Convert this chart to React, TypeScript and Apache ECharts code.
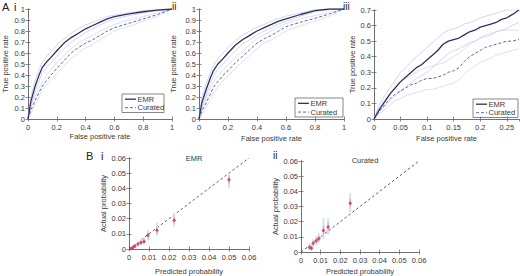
import React, { useEffect, useRef } from "react";
import * as echarts from "echarts";

// ---------- Data ----------
// Panel A i
const aiFpr = [0, 0.02, 0.05, 0.08, 0.1, 0.13, 0.16, 0.2, 0.25, 0.3, 0.35, 0.4, 0.45, 0.5, 0.55, 0.6, 0.7, 0.8, 0.9, 1];
const aiEmr = [0, 0.16, 0.3, 0.41, 0.47, 0.52, 0.56, 0.62, 0.69, 0.74, 0.78, 0.82, 0.85, 0.88, 0.91, 0.93, 0.955, 0.975, 0.99, 1];
const aiEmrHi = [0, 0.2, 0.35, 0.46, 0.52, 0.57, 0.61, 0.67, 0.73, 0.78, 0.82, 0.855, 0.88, 0.905, 0.93, 0.945, 0.965, 0.985, 0.995, 1];
const aiEmrLo = [0, 0.12, 0.25, 0.36, 0.42, 0.47, 0.51, 0.57, 0.64, 0.7, 0.74, 0.785, 0.82, 0.855, 0.885, 0.91, 0.94, 0.965, 0.985, 1];
const aiCur = [0, 0.08, 0.17, 0.25, 0.3, 0.35, 0.4, 0.46, 0.53, 0.6, 0.65, 0.69, 0.72, 0.76, 0.8, 0.83, 0.87, 0.91, 0.95, 1];
const aiCurHi = [0, 0.11, 0.21, 0.29, 0.34, 0.4, 0.45, 0.51, 0.58, 0.64, 0.69, 0.73, 0.76, 0.8, 0.83, 0.86, 0.9, 0.93, 0.965, 1];
const aiCurLo = [0, 0.05, 0.13, 0.21, 0.26, 0.31, 0.36, 0.41, 0.48, 0.55, 0.6, 0.65, 0.68, 0.72, 0.76, 0.8, 0.84, 0.89, 0.935, 1];

// Panel A ii
const aiiFpr = [0, 0.02, 0.05, 0.08, 0.1, 0.13, 0.16, 0.2, 0.25, 0.3, 0.35, 0.4, 0.45, 0.5, 0.55, 0.6, 0.7, 0.8, 0.9, 1];
const aiiEmr = [0, 0.15, 0.27, 0.38, 0.44, 0.5, 0.54, 0.6, 0.67, 0.72, 0.76, 0.8, 0.83, 0.86, 0.89, 0.91, 0.95, 0.985, 1, 1];
const aiiEmrHi = [0, 0.19, 0.32, 0.43, 0.49, 0.55, 0.59, 0.65, 0.71, 0.76, 0.8, 0.835, 0.86, 0.89, 0.915, 0.935, 0.965, 0.993, 1, 1];
const aiiEmrLo = [0, 0.11, 0.22, 0.33, 0.39, 0.45, 0.49, 0.55, 0.62, 0.68, 0.72, 0.765, 0.8, 0.83, 0.865, 0.89, 0.935, 0.975, 0.995, 1];
const aiiCur = [0, 0.07, 0.15, 0.23, 0.29, 0.34, 0.39, 0.44, 0.51, 0.57, 0.63, 0.69, 0.73, 0.76, 0.8, 0.84, 0.88, 0.915, 0.955, 1];
const aiiCurHi = [0, 0.1, 0.19, 0.28, 0.34, 0.39, 0.44, 0.49, 0.56, 0.62, 0.68, 0.73, 0.77, 0.8, 0.84, 0.87, 0.91, 0.94, 0.97, 1];
const aiiCurLo = [0, 0.04, 0.11, 0.18, 0.24, 0.29, 0.34, 0.39, 0.46, 0.52, 0.58, 0.64, 0.69, 0.72, 0.76, 0.8, 0.85, 0.89, 0.935, 1];

// Panel A iii
const aiiiFpr = [0, 0.01, 0.02, 0.03, 0.04, 0.05, 0.06, 0.07, 0.08, 0.09, 0.1, 0.11, 0.12, 0.13, 0.14, 0.15, 0.16, 0.17, 0.18, 0.19, 0.2, 0.21, 0.22, 0.23, 0.24, 0.25, 0.26, 0.273];
const aiiiEmr = [0, 0.06, 0.11, 0.16, 0.2, 0.24, 0.27, 0.3, 0.33, 0.35, 0.38, 0.41, 0.44, 0.48, 0.5, 0.51, 0.52, 0.54, 0.56, 0.57, 0.59, 0.6, 0.61, 0.62, 0.64, 0.65, 0.67, 0.7];
const aiiiEmrHi = [0, 0.09, 0.15, 0.2, 0.25, 0.3, 0.33, 0.37, 0.4, 0.43, 0.46, 0.49, 0.52, 0.55, 0.57, 0.58, 0.59, 0.61, 0.62, 0.63, 0.65, 0.66, 0.67, 0.68, 0.69, 0.7, 0.7, 0.7];
const aiiiEmrLo = [0, 0.04, 0.08, 0.12, 0.15, 0.18, 0.21, 0.23, 0.26, 0.28, 0.3, 0.33, 0.36, 0.39, 0.42, 0.44, 0.45, 0.47, 0.49, 0.5, 0.52, 0.53, 0.54, 0.56, 0.57, 0.58, 0.6, 0.62];
const aiiiCur = [0, 0.05, 0.09, 0.13, 0.16, 0.18, 0.2, 0.22, 0.23, 0.25, 0.26, 0.26, 0.27, 0.28, 0.3, 0.31, 0.33, 0.37, 0.4, 0.42, 0.44, 0.46, 0.47, 0.48, 0.49, 0.5, 0.5, 0.51];
const aiiiCurHi = [0, 0.07, 0.12, 0.17, 0.21, 0.24, 0.26, 0.28, 0.3, 0.32, 0.33, 0.34, 0.35, 0.36, 0.38, 0.4, 0.42, 0.45, 0.48, 0.5, 0.52, 0.54, 0.55, 0.56, 0.57, 0.57, 0.57, 0.57];
const aiiiCurLo = [0, 0.03, 0.06, 0.09, 0.12, 0.13, 0.15, 0.16, 0.17, 0.18, 0.19, 0.19, 0.2, 0.21, 0.22, 0.23, 0.25, 0.29, 0.32, 0.34, 0.36, 0.38, 0.39, 0.41, 0.42, 0.43, 0.44, 0.45];

// Panel B i (EMR calibration)
const biPred = [0.001, 0.002, 0.003, 0.0045, 0.006, 0.0075, 0.0095, 0.014, 0.0226, 0.05];
const biActual = [0.0003, 0.001, 0.002, 0.0033, 0.0043, 0.005, 0.0091, 0.0123, 0.019, 0.0456];
const biPinkLo = [0, 0.0005, 0.0012, 0.0024, 0.0032, 0.0038, 0.0075, 0.0102, 0.0168, 0.0428];
const biPinkHi = [0.0008, 0.0016, 0.0028, 0.0042, 0.0054, 0.0062, 0.0107, 0.0145, 0.0212, 0.0484];
const biBlueLo = [0, 0, 0.0006, 0.0016, 0.0024, 0.003, 0.0058, 0.0088, 0.0148, 0.04];
const biBlueHi = [0.0012, 0.0022, 0.0036, 0.0052, 0.0066, 0.0076, 0.0125, 0.0175, 0.0238, 0.049];

// Panel B ii (Curated calibration)
const biiPred = [0.0043, 0.0053, 0.0062, 0.0078, 0.0091, 0.0114, 0.0138, 0.025];
const biiActual = [0.0032, 0.0025, 0.0057, 0.0074, 0.0089, 0.0142, 0.0165, 0.0322];
const biiPinkLo = [0.0022, 0.0015, 0.0043, 0.0058, 0.0072, 0.0115, 0.0138, 0.0296];
const biiPinkHi = [0.0042, 0.0035, 0.0071, 0.009, 0.0106, 0.0172, 0.0192, 0.0352];
const biiBlueLo = [0.0012, 0.0006, 0.003, 0.0044, 0.0058, 0.0085, 0.0115, 0.026];
const biiBlueHi = [0.0055, 0.0046, 0.0088, 0.0108, 0.0125, 0.0223, 0.0222, 0.0388];

const diagonal = [0, 0.06];

// ---------- Styles ----------
const FONT = "Liberation Sans, Arial, Helvetica, sans-serif";
const AXIS_COLOR = "#6a6a6a";
const TEXT_COLOR = "#3a3a3a";
const EMR_COLOR = "#2c3064";
const CUR_COLOR = "#5c68a4";
const BAND_EMR = "#c6cbe8";
const BAND_CUR = "#d4d8ee";
const RED = "#c4345a";
const PINK = "#e0a2b6";
const BLUE = "#cfe3f0";
const FS = 7.5;

const zip = (xs: number[], ys: number[]) => xs.map((x, i) => [x, ys[i]]);

function makeAxes(
  g: number,
  x: { min: number; max: number; interval: number; name: string; gap: number; hideMax?: boolean },
  y: { min: number; max: number; interval: number; name: string; gap: number }
) {
  const label = { fontSize: FS, color: TEXT_COLOR, fontFamily: FONT };
  const line = { show: true, lineStyle: { color: AXIS_COLOR, width: 0.8 } };
  const tick = { show: true, inside: true, length: 2.5, lineStyle: { color: AXIS_COLOR, width: 0.8 } };
  const nameStyle = { fontSize: FS, color: TEXT_COLOR, fontFamily: FONT };
  const xAxes = [
    {
      type: "value", gridIndex: g, position: "bottom", min: x.min, max: x.max, interval: x.interval,
      name: x.name, nameLocation: "middle", nameGap: x.gap, nameTextStyle: nameStyle,
      axisLine: line, axisTick: tick, splitLine: { show: false },
      axisLabel: { ...label, margin: 4, showMaxLabel: !x.hideMax },
    },
    {
      type: "value", gridIndex: g, position: "top", min: x.min, max: x.max, interval: x.interval,
      axisLine: line, axisTick: tick, splitLine: { show: false }, axisLabel: { show: false },
    },
  ];
  const yAxes = [
    {
      type: "value", gridIndex: g, position: "left", min: y.min, max: y.max, interval: y.interval,
      name: y.name, nameLocation: "middle", nameGap: y.gap, nameTextStyle: nameStyle,
      axisLine: line, axisTick: tick, splitLine: { show: false },
      axisLabel: { ...label, margin: 3 },
    },
    {
      type: "value", gridIndex: g, position: "right", min: y.min, max: y.max, interval: y.interval,
      axisLine: line, axisTick: tick, splitLine: { show: false }, axisLabel: { show: false },
    },
  ];
  return { xAxes, yAxes };
}

function rocSeries(g: number, fpr: number[], emr: number[], emrHi: number[], emrLo: number[], cur: number[], curHi: number[], curLo: number[]) {
  const base = { type: "line", xAxisIndex: 2 * g, yAxisIndex: 2 * g, symbol: "none", silent: true };
  return [
    { ...base, name: "cHi" + g, data: zip(fpr, curHi), lineStyle: { color: BAND_CUR, width: 0.8 }, z: 1 },
    { ...base, name: "cLo" + g, data: zip(fpr, curLo), lineStyle: { color: BAND_CUR, width: 0.8 }, z: 1 },
    { ...base, name: "eHi" + g, data: zip(fpr, emrHi), lineStyle: { color: BAND_EMR, width: 0.8 }, z: 1 },
    { ...base, name: "eLo" + g, data: zip(fpr, emrLo), lineStyle: { color: BAND_EMR, width: 0.8 }, z: 1 },
    { ...base, name: "Curated" + g, data: zip(fpr, cur), lineStyle: { color: CUR_COLOR, width: 1, type: [3, 2] }, z: 2 },
    { ...base, name: "EMR" + g, data: zip(fpr, emr), lineStyle: { color: EMR_COLOR, width: 1.3 }, z: 3 },
  ];
}

function errorBars(g: number, xs: number[], lo: number[], hi: number[], color: string, width: number, z: number) {
  return {
    type: "custom",
    xAxisIndex: 2 * g,
    yAxisIndex: 2 * g,
    silent: true,
    z,
    encode: { x: 0, y: [1, 2] },
    data: xs.map((x, i) => [x, lo[i], hi[i]]),
    renderItem: (_params: any, api: any) => {
      const p1 = api.coord([api.value(0), api.value(1)]);
      const p2 = api.coord([api.value(0), api.value(2)]);
      return {
        type: "line",
        shape: { x1: p1[0], y1: p1[1], x2: p2[0], y2: p2[1] },
        style: { stroke: color, lineWidth: width },
      };
    },
  };
}

function calibSeries(g: number, pred: number[], actual: number[], pLo: number[], pHi: number[], bLo: number[], bHi: number[]) {
  return [
    {
      type: "line", xAxisIndex: 2 * g, yAxisIndex: 2 * g, symbol: "none", silent: true, z: 1,
      data: [[diagonal[0], diagonal[0]], [diagonal[1], diagonal[1]]],
      lineStyle: { color: "#444", width: 0.9, type: [2.5, 2.5] },
    },
    errorBars(g, pred, bLo, bHi, BLUE, 2, 2),
    errorBars(g, pred, pLo, pHi, PINK, 1.2, 3),
    {
      type: "scatter", xAxisIndex: 2 * g, yAxisIndex: 2 * g, silent: true, z: 4,
      data: zip(pred, actual), symbol: "diamond", symbolSize: 4,
      itemStyle: { color: RED },
    },
  ];
}

function legendBox(x: number, y: number, w: number, h: number) {
  const font = `${FS}px ${FONT}`;
  const y1 = y + h * 0.28;
  const y2 = y + h * 0.74;
  return {
    type: "group",
    z: 100,
    children: [
      { type: "rect", shape: { x, y, width: w, height: h }, style: { fill: "#fff", stroke: "#555", lineWidth: 0.7 } },
      { type: "line", shape: { x1: x + 3, y1, x2: x + 14, y2: y1 }, style: { stroke: EMR_COLOR, lineWidth: 1.3 } },
      { type: "text", x: x + 15.5, y: y1, style: { text: "EMR", font, fill: TEXT_COLOR, verticalAlign: "middle" } },
      { type: "line", shape: { x1: x + 3, y1: y2, x2: x + 14, y2 }, style: { stroke: CUR_COLOR, lineWidth: 1, lineDash: [3, 2] } },
      { type: "text", x: x + 15.5, y: y2, style: { text: "Curated", font, fill: TEXT_COLOR, verticalAlign: "middle" } },
    ],
  };
}

function label(text: string, x: number, y: number, size: number) {
  return { type: "text", x, y, z: 100, style: { text, font: `${size}px ${FONT}`, fill: "#222" } };
}

export default function App() {
  const ref = useRef<HTMLDivElement>(null);
  useEffect(() => {
    if (!ref.current) return;
    const chart = echarts.init(ref.current, undefined, { renderer: "svg" });

    const grids = [
      { left: 27, top: 9, width: 145, height: 110 },
      { left: 199, top: 9, width: 145, height: 110 },
      { left: 374, top: 10, width: 145, height: 109 },
      { left: 129, top: 158, width: 120, height: 93 },
      { left: 301, top: 161, width: 118, height: 94 },
    ];

    const a0 = makeAxes(0, { min: 0, max: 1, interval: 0.2, name: "False positive rate", gap: 13 }, { min: 0, max: 1, interval: 0.1, name: "True positive rate", gap: 19 });
    const a1 = makeAxes(1, { min: 0, max: 1, interval: 0.2, name: "False positive rate", gap: 15 }, { min: 0, max: 1, interval: 0.1, name: "True positive rate", gap: 22 });
    const a2 = makeAxes(2, { min: 0, max: 0.273, interval: 0.05, name: "False positive rate", gap: 15, hideMax: true }, { min: 0, max: 0.7, interval: 0.1, name: "True positive rate", gap: 18 });
    const a3 = makeAxes(3, { min: 0, max: 0.06, interval: 0.01, name: "Predicted probability", gap: 18 }, { min: 0, max: 0.06, interval: 0.01, name: "Actual probability", gap: 22 });
    const a4 = makeAxes(4, { min: 0, max: 0.06, interval: 0.01, name: "Predicted probability", gap: 15 }, { min: 0, max: 0.06, interval: 0.01, name: "Actual probability", gap: 22 });
    const all = [a0, a1, a2, a3, a4];

    const option: any = {
      animation: false,
      textStyle: { fontFamily: FONT },
      grid: grids.map((g) => ({ ...g, containLabel: false })),
      xAxis: all.flatMap((a) => a.xAxes),
      yAxis: all.flatMap((a) => a.yAxes),
      title: [
        { text: "EMR", left: 189, top: 149, textAlign: "center", textStyle: { fontSize: FS, fontWeight: "normal", color: TEXT_COLOR, fontFamily: FONT } },
        { text: "Curated", left: 360, top: 151, textAlign: "center", textStyle: { fontSize: FS, fontWeight: "normal", color: TEXT_COLOR, fontFamily: FONT } },
      ],
      series: [
        ...rocSeries(0, aiFpr, aiEmr, aiEmrHi, aiEmrLo, aiCur, aiCurHi, aiCurLo),
        ...rocSeries(1, aiiFpr, aiiEmr, aiiEmrHi, aiiEmrLo, aiiCur, aiiCurHi, aiiCurLo),
        ...rocSeries(2, aiiiFpr, aiiiEmr, aiiiEmrHi, aiiiEmrLo, aiiiCur, aiiiCurHi, aiiiCurLo),
        ...calibSeries(3, biPred, biActual, biPinkLo, biPinkHi, biBlueLo, biBlueHi),
        ...calibSeries(4, biiPred, biiActual, biiPinkLo, biiPinkHi, biiBlueLo, biiBlueHi),
      ],
      graphic: [
        legendBox(122, 94, 42, 18.5),
        legendBox(295, 98, 48, 19),
        legendBox(473, 99, 45, 18.5),
        label("A", 2, 1, 11),
        label("i", 14, 1, 11),
        label("ii", 172, 1, 10),
        label("iii", 343, 1, 10),
        label("B", 86, 150, 11),
        label("i", 101, 150, 11),
        label("ii", 273, 150, 10),
      ],
    };
    chart.setOption(option);
    return () => chart.dispose();
  }, []);
  return <div ref={ref} style={{ position: "absolute", left: 0, top: 0, width: 520, height: 276, background: "#fff" }} />;
}
